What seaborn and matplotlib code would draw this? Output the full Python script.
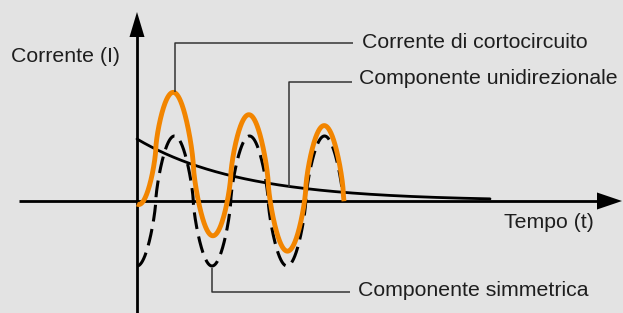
import numpy as np
import pandas as pd
import matplotlib
matplotlib.use("Agg")
import matplotlib.pyplot as plt
import seaborn as sns

# ---- values (pixel-like units; origin at the axes crossing) ----
SYM_AMPLITUDE = 65      # amplitude of the symmetric component
PERIOD = 75             # period of the oscillation
WAVE_SHAPE = 0.72       # <1: rounder, broader crests as drawn in the diagram
DC_INITIAL = 62         # initial value of the unidirectional (DC) component
DC_TAU = 105            # decay time constant of the DC component
T_END_SYM = 205         # end of the dashed symmetric curve
T_END_TOTAL = 207       # end of the orange short-circuit current
T_END_DC = 353          # end of the DC decay curve

labels = ["Corrente di cortocircuito", "Componente unidirezionale", "Componente simmetrica"]
axis_labels = ["Corrente (I)", "Tempo (t)"]

BG = "#e3e3e3"
ORANGE = "#f28500"

sns.set_style("white")
plt.rcParams["font.family"] = ["Liberation Sans", "DejaVu Sans"]

W, H = 623, 313
fig = plt.figure(figsize=(W / 100, H / 100), dpi=100, facecolor=BG)
ax = fig.add_axes([0, 0, 1, 1])
ax.set_facecolor(BG)
X0, Y0 = 137, 201  # pixel position of origin (from top-left)
ax.set_xlim(-X0, W - X0)
ax.set_ylim(-(H - Y0), Y0)
ax.axis("off")

def sym(t):
    c = np.cos(2 * np.pi * t / PERIOD)
    return -SYM_AMPLITUDE * np.sign(c) * np.abs(c) ** WAVE_SHAPE

def dc(t):
    return DC_INITIAL * np.exp(-t / DC_TAU)

t_sym = np.linspace(0, T_END_SYM, 1500)
t_tot = np.linspace(0, T_END_TOTAL, 1500)
t_dc = np.linspace(0, T_END_DC, 800)

df_sym = pd.DataFrame({"t": t_sym, "i": sym(t_sym)})
df_tot = pd.DataFrame({"t": t_tot, "i": sym(t_tot) + dc(t_tot)})
df_dc = pd.DataFrame({"t": t_dc, "i": dc(t_dc)})

# axes with arrows
ax.plot([19 - X0, 600 - X0], [0, 0], color="black", lw=2.0, zorder=1, solid_capstyle="butt")
ax.plot([0, 0], [-(H - Y0) - 2, Y0 - 35], color="black", lw=2.0, zorder=1, solid_capstyle="butt")
ax.fill([597 - X0, 622 - X0, 597 - X0], [8.5, 0, -8.5], color="black", lw=0, zorder=1)
ax.fill([-7.5, 0, 7.5], [Y0 - 37, Y0 - 12, Y0 - 37], color="black", lw=0, zorder=1)

sns.lineplot(data=df_dc, x="t", y="i", ax=ax, color="black", lw=2.0, zorder=3, sort=False)
sns.lineplot(data=df_sym, x="t", y="i", ax=ax, color="black", lw=2.2, zorder=2, sort=False,
             linestyle=(0, (5.5, 2.5)))
sns.lineplot(data=df_tot, x="t", y="i", ax=ax, color=ORANGE, lw=3.5, zorder=4, sort=False,
             solid_capstyle="butt")

def P(px, py):
    return px - X0, Y0 - py

lead_kw = dict(color="#333333", lw=1.1, zorder=5, solid_capstyle="butt")
# leader 1: short-circuit current
xs, ys = zip(P(175, 92), P(175, 43), P(353, 43))
ax.plot(xs, ys, **lead_kw)
# leader 2: unidirectional component
xs, ys = zip(P(289, 187), P(289, 82), P(352, 82))
ax.plot(xs, ys, **lead_kw)
# leader 3: symmetric component
xs, ys = zip(P(212, 268), P(212, 292), P(350, 292))
ax.plot(xs, ys, **lead_kw)

fs = 15.3
tc = "#1e1e1e"
ax.text(*P(362, 42), labels[0], fontsize=fs, color=tc, va="center", ha="left")
ax.text(*P(359, 78), labels[1], fontsize=fs, color=tc, va="center", ha="left")
ax.text(*P(358, 290), labels[2], fontsize=fs, color=tc, va="center", ha="left")
ax.text(*P(11, 57), axis_labels[0], fontsize=fs, color=tc, va="center", ha="left")
ax.text(*P(504, 222), axis_labels[1], fontsize=fs, color=tc, va="center", ha="left")

fig.savefig("out.png", dpi=100, facecolor=BG)
